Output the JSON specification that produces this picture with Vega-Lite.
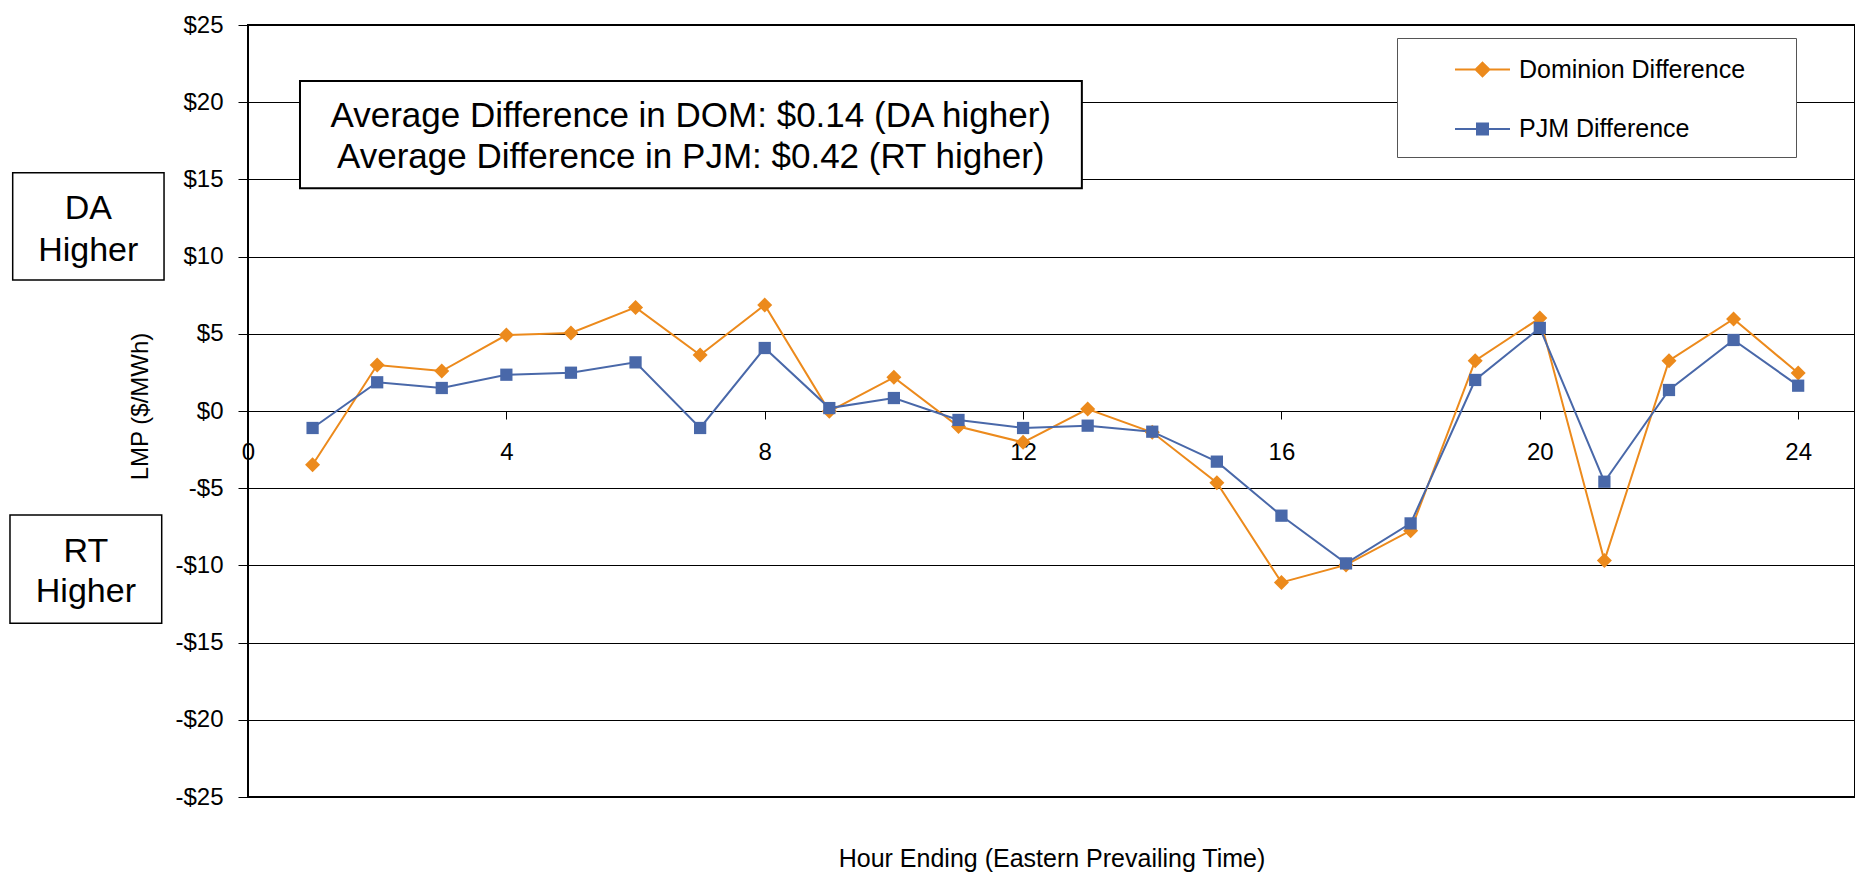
{
  "$schema": "https://vega.github.io/schema/vega-lite/v6.json",
  "width": 1607,
  "height": 772,
  "autosize": {"type": "none"},
  "padding": {"left": 248, "top": 25, "right": 0, "bottom": 80},
  "background": "white",
  "config": {
    "view": {"stroke": "#000", "strokeWidth": 2},
    "font": "Liberation Sans, Arial, sans-serif",
    "axis": {"labelColor": "#000", "titleColor": "#000", "titleFontWeight": "normal", "tickColor": "#000", "labelFlush": false, "labelOverlap": false}
  },
  "data": {"values": [
    {"hour": 1, "series": "Dominion Difference", "lmp": -3.48},
    {"hour": 2, "series": "Dominion Difference", "lmp": 2.98},
    {"hour": 3, "series": "Dominion Difference", "lmp": 2.59},
    {"hour": 4, "series": "Dominion Difference", "lmp": 4.92},
    {"hour": 5, "series": "Dominion Difference", "lmp": 5.05},
    {"hour": 6, "series": "Dominion Difference", "lmp": 6.71},
    {"hour": 7, "series": "Dominion Difference", "lmp": 3.63},
    {"hour": 8, "series": "Dominion Difference", "lmp": 6.87},
    {"hour": 9, "series": "Dominion Difference", "lmp": -0.02},
    {"hour": 10, "series": "Dominion Difference", "lmp": 2.18},
    {"hour": 11, "series": "Dominion Difference", "lmp": -1.01},
    {"hour": 12, "series": "Dominion Difference", "lmp": -2.03},
    {"hour": 13, "series": "Dominion Difference", "lmp": 0.13},
    {"hour": 14, "series": "Dominion Difference", "lmp": -1.38},
    {"hour": 15, "series": "Dominion Difference", "lmp": -4.64},
    {"hour": 16, "series": "Dominion Difference", "lmp": -11.1},
    {"hour": 17, "series": "Dominion Difference", "lmp": -9.97},
    {"hour": 18, "series": "Dominion Difference", "lmp": -7.75},
    {"hour": 19, "series": "Dominion Difference", "lmp": 3.26},
    {"hour": 20, "series": "Dominion Difference", "lmp": 6.02},
    {"hour": 21, "series": "Dominion Difference", "lmp": -9.69},
    {"hour": 22, "series": "Dominion Difference", "lmp": 3.26},
    {"hour": 23, "series": "Dominion Difference", "lmp": 5.96},
    {"hour": 24, "series": "Dominion Difference", "lmp": 2.46},
    {"hour": 1, "series": "PJM Difference", "lmp": -1.1},
    {"hour": 2, "series": "PJM Difference", "lmp": 1.86},
    {"hour": 3, "series": "PJM Difference", "lmp": 1.49},
    {"hour": 4, "series": "PJM Difference", "lmp": 2.35},
    {"hour": 5, "series": "PJM Difference", "lmp": 2.48},
    {"hour": 6, "series": "PJM Difference", "lmp": 3.15},
    {"hour": 7, "series": "PJM Difference", "lmp": -1.1},
    {"hour": 8, "series": "PJM Difference", "lmp": 4.08},
    {"hour": 9, "series": "PJM Difference", "lmp": 0.19},
    {"hour": 10, "series": "PJM Difference", "lmp": 0.84},
    {"hour": 11, "series": "PJM Difference", "lmp": -0.58},
    {"hour": 12, "series": "PJM Difference", "lmp": -1.1},
    {"hour": 13, "series": "PJM Difference", "lmp": -0.95},
    {"hour": 14, "series": "PJM Difference", "lmp": -1.34},
    {"hour": 15, "series": "PJM Difference", "lmp": -3.28},
    {"hour": 16, "series": "PJM Difference", "lmp": -6.78},
    {"hour": 17, "series": "PJM Difference", "lmp": -9.87},
    {"hour": 18, "series": "PJM Difference", "lmp": -7.28},
    {"hour": 19, "series": "PJM Difference", "lmp": 2.01},
    {"hour": 20, "series": "PJM Difference", "lmp": 5.38},
    {"hour": 21, "series": "PJM Difference", "lmp": -4.58},
    {"hour": 22, "series": "PJM Difference", "lmp": 1.36},
    {"hour": 23, "series": "PJM Difference", "lmp": 4.6},
    {"hour": 24, "series": "PJM Difference", "lmp": 1.64}
  ]},
  "layer": [
    {
      "mark": {"type": "line", "strokeWidth": 2},
      "encoding": {
        "x": {"field": "hour", "type": "quantitative",
          "scale": {"domain": [0, 24.88], "nice": false, "zero": false},
          "axis": {"values": [0, 4, 8, 12, 16, 20, 24], "format": "d", "offset": -386, "grid": false, "domain": false,
            "tickSize": 8, "labelPadding": 21, "labelFontSize": 24,
            "title": "Hour Ending (Eastern Prevailing Time)", "titleFontSize": 25, "titleY": 455, "titleBaseline": "alphabetic"}},
        "y": {"field": "lmp", "type": "quantitative",
          "scale": {"domain": [-25, 25], "nice": false, "zero": false},
          "axis": {"values": [-25, -20, -15, -10, -5, 0, 5, 10, 15, 20, 25],
            "labelExpr": "datum.value < 0 ? '-$' + abs(datum.value) : '$' + datum.value",
            "grid": true, "gridColor": "#000", "gridWidth": 1, "gridOpacity": 1, "domain": false,
            "tickSize": 10, "labelPadding": 15, "labelFontSize": 24,
            "title": "LMP ($/MWh)", "titleFontSize": 24, "titleX": -101, "titleY": 381, "titleAngle": 270, "titleAlign": "center", "titleBaseline": "alphabetic"}},
        "color": {"field": "series", "type": "nominal",
          "scale": {"domain": ["Dominion Difference", "PJM Difference"], "range": ["#EC8A1C", "#4968A9"]},
          "legend": {"orient": "none", "legendX": 1149, "legendY": 13,
            "title": ".", "titleOrient": "right", "titleFontSize": 2, "titleColor": "white", "titlePadding": 47,
            "padding": 3, "rowPadding": 6.6, "fillColor": "white", "strokeColor": "#555",
            "labelFontSize": 25, "labelColor": "#000", "labelOffset": 8, "labelLimit": 600,
            "symbolSize": 3025, "symbolStrokeWidth": 2, "symbolOffset": 54,
            "encode": {"symbols": {"update": {
              "shape": {"signal": "datum.value === 'Dominion Difference' ? 'M0,0.73M-1,0H1M0,-0.25L0.25,0L0,0.25L-0.25,0Z' : 'M0,0.73M-1,0H1M-0.2,-0.2H0.2V0.2H-0.2Z'"},
              "strokeWidth": {"value": 2},
              "size": {"value": 3025},
              "opacity": {"value": 1}
            }}}}
        }
      }
    },
    {
      "transform": [{"filter": "datum.series === 'Dominion Difference'"}],
      "mark": {"type": "point", "filled": true, "opacity": 1, "shape": "diamond", "size": 225},
      "encoding": {
        "x": {"field": "hour", "type": "quantitative"},
        "y": {"field": "lmp", "type": "quantitative"},
        "color": {"field": "series", "type": "nominal"}
      }
    },
    {
      "transform": [{"filter": "datum.series === 'PJM Difference'"}],
      "mark": {"type": "point", "filled": true, "opacity": 1, "shape": "square", "size": 150},
      "encoding": {
        "x": {"field": "hour", "type": "quantitative"},
        "y": {"field": "lmp", "type": "quantitative"},
        "color": {"field": "series", "type": "nominal"}
      }
    },
    {
      "data": {"values": [{}]},
      "mark": {"type": "rect", "fill": "white", "stroke": "#000", "strokeWidth": 2},
      "encoding": {
        "x": {"datum": 0.805, "type": "quantitative"}, "x2": {"datum": 12.91},
        "y": {"datum": 21.37, "type": "quantitative"}, "y2": {"datum": 14.42}
      }
    },
    {
      "data": {"values": [{}]},
      "mark": {"type": "text", "fontSize": 35, "align": "center", "baseline": "alphabetic", "color": "#000", "text": "Average Difference in DOM: $0.14 (DA higher)"},
      "encoding": {"x": {"datum": 6.855, "type": "quantitative"}, "y": {"datum": 18.41, "type": "quantitative"}}
    },
    {
      "data": {"values": [{}]},
      "mark": {"type": "text", "fontSize": 35, "align": "center", "baseline": "alphabetic", "color": "#000", "text": "Average Difference in PJM: $0.42 (RT higher)"},
      "encoding": {"x": {"datum": 6.855, "type": "quantitative"}, "y": {"datum": 15.72, "type": "quantitative"}}
    },
    {
      "data": {"values": [{}]},
      "mark": {"type": "rect", "fill": "white", "stroke": "#000", "strokeWidth": 1.5},
      "encoding": {
        "x": {"datum": -3.643, "type": "quantitative"}, "x2": {"datum": -1.30},
        "y": {"datum": 15.43, "type": "quantitative"}, "y2": {"datum": 8.48}
      }
    },
    {
      "data": {"values": [{}]},
      "mark": {"type": "text", "fontSize": 34, "align": "center", "baseline": "alphabetic", "color": "#000", "text": "DA"},
      "encoding": {"x": {"datum": -2.473, "type": "quantitative"}, "y": {"datum": 12.42, "type": "quantitative"}}
    },
    {
      "data": {"values": [{}]},
      "mark": {"type": "text", "fontSize": 34, "align": "center", "baseline": "alphabetic", "color": "#000", "text": "Higher"},
      "encoding": {"x": {"datum": -2.473, "type": "quantitative"}, "y": {"datum": 9.72, "type": "quantitative"}}
    },
    {
      "data": {"values": [{}]},
      "mark": {"type": "rect", "fill": "white", "stroke": "#000", "strokeWidth": 1.5},
      "encoding": {
        "x": {"datum": -3.685, "type": "quantitative"}, "x2": {"datum": -1.336},
        "y": {"datum": -6.74, "type": "quantitative"}, "y2": {"datum": -13.75}
      }
    },
    {
      "data": {"values": [{}]},
      "mark": {"type": "text", "fontSize": 34, "align": "center", "baseline": "alphabetic", "color": "#000", "text": "RT"},
      "encoding": {"x": {"datum": -2.51, "type": "quantitative"}, "y": {"datum": -9.80, "type": "quantitative"}}
    },
    {
      "data": {"values": [{}]},
      "mark": {"type": "text", "fontSize": 34, "align": "center", "baseline": "alphabetic", "color": "#000", "text": "Higher"},
      "encoding": {"x": {"datum": -2.51, "type": "quantitative"}, "y": {"datum": -12.35, "type": "quantitative"}}
    }
  ]
}
